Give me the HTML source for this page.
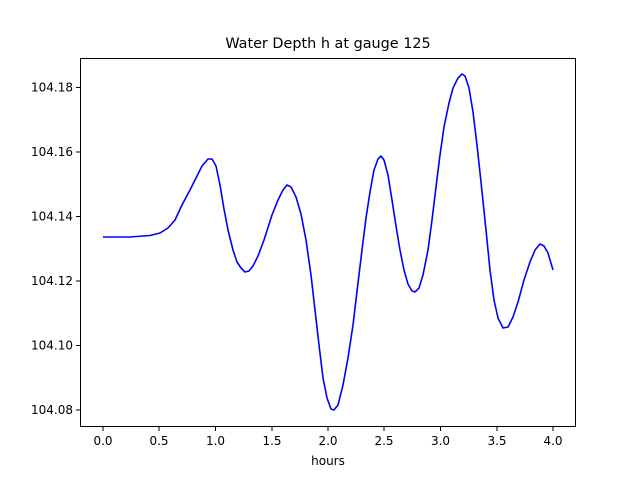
<!DOCTYPE html>
<html><head><meta charset="utf-8"><style>body{margin:0;background:#fff}svg{display:block}text{font-family:"DejaVu Sans","Liberation Sans",sans-serif;fill:#000}</style></head><body>
<svg width="640" height="480" viewBox="0 0 640 480">
<rect width="640" height="480" fill="#fff"/>
<text x="328" y="48" font-size="14.4" text-anchor="middle">Water Depth h at gauge 125</text>
<polyline fill="none" stroke="#0000ff" stroke-width="1.6" stroke-linejoin="round" points="103,237 130,237 150,235.5 160,233 168,228 175,220 182,205 190,190 196,178 202,166 208,159 212,159 216,166 220,185 224,209 228,230 233,250 237,262 241,268 245,272 249,271 253,266 258,256 264,240 272,215 278,200 283,190 287,185 291,187 296,197 301,214 306,240 311,275 315,310 319,345 323,378 327,398 331,409 334,410 338,405 343,385 348,358 353,325 358,283 362,250 366,218 370,192 374,170 378,159 381,156 384,160 388,175 392,200 396,226 400,250 404,270 408,284 412,291 415,292 419,288 423,275 428,250 432,220 436,187 440,155 444,127 449,103 453,88 458,78 462,74 465,76 469,88 473,112 477,145 481,182 486,230 490,270 494,300 498,318 503,328 508,327 513,317 518,302 524,280 530,262 535,250 540,244 544,246 548,253 553,270"/>
<rect x="80.5" y="58.5" width="495" height="368" fill="none" stroke="#000" stroke-width="1"/>
<g stroke="#000" stroke-width="1">
<line x1="103" y1="427" x2="103" y2="431"/><line x1="159" y1="427" x2="159" y2="431"/><line x1="215.5" y1="427" x2="215.5" y2="431"/><line x1="272" y1="427" x2="272" y2="431"/><line x1="328" y1="427" x2="328" y2="431"/><line x1="384" y1="427" x2="384" y2="431"/><line x1="440.5" y1="427" x2="440.5" y2="431"/><line x1="497" y1="427" x2="497" y2="431"/><line x1="553" y1="427" x2="553" y2="431"/>
<line x1="76" y1="410" x2="80" y2="410"/><line x1="76" y1="345.5" x2="80" y2="345.5"/><line x1="76" y1="281" x2="80" y2="281"/><line x1="76" y1="216.5" x2="80" y2="216.5"/><line x1="76" y1="152" x2="80" y2="152"/><line x1="76" y1="87.5" x2="80" y2="87.5"/>
</g>
<g font-size="12" text-anchor="middle">
<text x="103" y="445">0.0</text><text x="159" y="445">0.5</text><text x="215.5" y="445">1.0</text><text x="272" y="445">1.5</text><text x="328" y="445">2.0</text><text x="384" y="445">2.5</text><text x="440.5" y="445">3.0</text><text x="497" y="445">3.5</text><text x="553" y="445">4.0</text>
<text x="328" y="465">hours</text>
</g>
<g font-size="12" text-anchor="end">
<text x="73" y="414">104.08</text><text x="73" y="349.5">104.10</text><text x="73" y="285">104.12</text><text x="73" y="220.5">104.14</text><text x="73" y="156">104.16</text><text x="73" y="91.5">104.18</text>
</g>
</svg>
</body></html>
